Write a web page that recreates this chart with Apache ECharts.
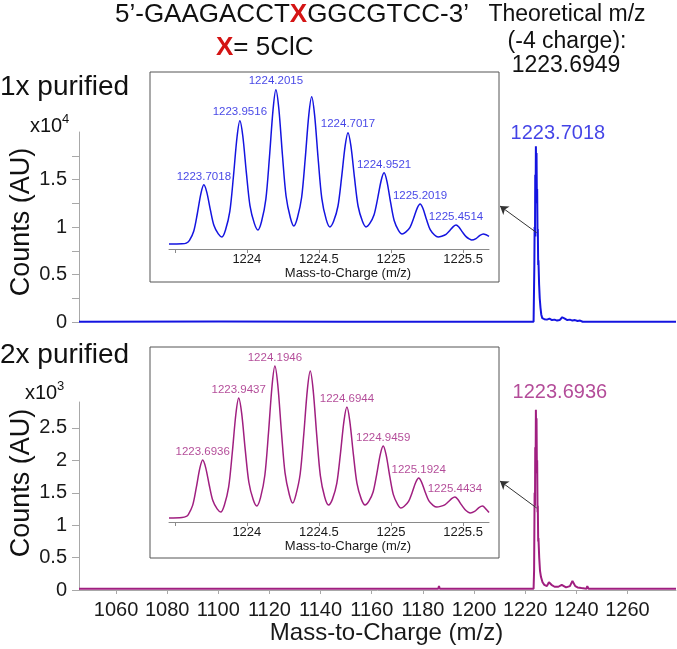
<!DOCTYPE html>
<html><head><meta charset="utf-8">
<script src="https://cdn.jsdelivr.net/npm/echarts@6/dist/echarts.min.js"></script>
<style>html,body{margin:0;padding:0;background:#fff}#c{width:677px;height:649px}</style>
</head><body><div id="c"></div>
<script>
const FONT = 'Liberation Sans, Arial, Helvetica, sans-serif';
const BLUE = '#1414e0';
const PURPLE = '#a01f80';

// main spectra [m/z, counts]
const spectrum1x = [
[1045.5,30],[1100,40],[1150,30],[1190.2,30],[1190.5,160],[1190.8,30],[1195.9,30],[1196.2,120],[1196.5,30],
[1223.3,30],[1223.45,200],[1223.6,6000],[1223.7,10000],[1223.85,9000],[1223.95,15500],[1224.1,13000],[1224.2,18500],[1224.35,15000],[1224.45,17800],[1224.6,12500],[1224.7,14000],[1224.85,9000],[1224.95,9800],[1225.1,6000],[1225.2,6500],[1225.45,4000],[1225.7,2500],[1226.0,1500],[1226.3,800],[1226.7,400],
[1227.5,300],[1228.5,250],[1229.5,350],[1230.5,200],[1231.5,250],[1232.5,150],[1233.5,200],[1234.5,500],[1235.0,700],[1235.5,350],[1236.5,200],[1237.5,250],[1238.5,150],[1239.5,200],[1240.5,100],[1241.5,150],[1242.5,30],[1279,30]
];
const spectrum2x = [
[1045.5,20],[1120,20],[1186,20],[1186.3,60],[1186.6,20],[1223.3,20],[1223.5,300],[1223.7,1500],[1223.85,1300],[1223.95,2200],[1224.1,1900],[1224.2,2780],[1224.35,2300],[1224.45,2650],[1224.6,1800],[1224.7,2000],[1224.85,1200],[1224.95,1300],[1225.1,750],[1225.2,800],[1225.5,500],[1225.8,300],[1226.2,200],[1226.8,120],[1227.5,80],[1228.5,60],[1229.3,120],[1229.8,140],[1230.3,80],[1231.5,50],[1233,50],[1234.3,80],[1234.8,60],[1236,40],[1237.5,60],[1238.5,140],[1239,110],[1239.6,60],[1240.5,40],[1242,30],[1244,20],[1244.3,60],[1244.8,20],[1253.5,20],[1253.8,50],[1254.2,20],[1279,20]
];

// inset (zoomed isotope envelope) [m/z, counts]
const inset1x = [
[1223.46,600],[1223.55,620],[1223.58,700],
[1223.602,1030],[1223.632,2160],[1223.657,4280],[1223.682,6690],[1223.7018,7680],
[1223.722,6810],[1223.747,4690],[1223.772,2810],[1223.802,1810],[1223.827,1440],
[1223.852,2280],[1223.882,4500],[1223.907,8680],[1223.932,13410],[1223.9516,15360],
[1223.972,13530],[1223.997,9080],[1224.022,5160],[1224.052,3070],[1224.077,2280],
[1224.102,3290],[1224.132,5980],[1224.157,11020],[1224.182,16730],[1224.2015,19080],
[1224.222,16800],[1224.247,11250],[1224.272,6350],[1224.302,3740],[1224.326,2760],
[1224.35,3690],[1224.38,6170],[1224.405,10810],[1224.43,16070],[1224.45,18240],
[1224.47,16060],[1224.495,10750],[1224.52,6070],[1224.55,3580],[1224.576,2640],
[1224.602,3320],[1224.632,5120],[1224.657,8510],[1224.682,12340],[1224.7017,13920],
[1224.722,12340],[1224.747,8510],[1224.772,5120],[1224.802,3320],[1224.827,2640],
[1224.852,3030],[1224.882,4070],[1224.907,6010],[1224.932,8210],[1224.9521,9120],
[1224.972,8100],[1224.997,5610],[1225.022,3410],[1225.052,2240],[1225.077,1800],
[1225.102,2020],[1225.132,2590],[1225.157,3670],[1225.182,4900],[1225.2019,5400],
[1225.222,4850],[1225.247,3500],[1225.272,2310],[1225.302,1680],[1225.327,1440],
[1225.352,1530],[1225.382,1760],[1225.407,2190],[1225.432,2680],[1225.4514,2880],
[1225.471,2630],[1225.496,2020],[1225.521,1480],[1225.545,1190],[1225.56,1080],
[1225.59,1250],[1225.615,1600],[1225.64,1800],[1225.66,1700],[1225.68,1500]
];
const inset2x = [
[1223.46,72],[1223.55,80],[1223.58,100],
[1223.594,135],[1223.624,300],[1223.649,615],[1223.674,970],[1223.6936,1116],
[1223.714,985],[1223.739,667],[1223.764,386],[1223.794,236],[1223.819,180],
[1223.844,303],[1223.874,631],[1223.899,1247],[1223.924,1945],[1223.9437,2232],
[1223.964,1960],[1223.989,1299],[1224.014,716],[1224.044,405],[1224.069,288],
[1224.095,439],[1224.125,842],[1224.15,1598],[1224.175,2455],[1224.1946,2808],
[1224.215,2463],[1224.24,1624],[1224.265,885],[1224.295,490],[1224.318,342],
[1224.34,485],[1224.37,865],[1224.395,1578],[1224.42,2385],[1224.44,2718],
[1224.46,2380],[1224.485,1560],[1224.51,837],[1224.54,451],[1224.567,306],
[1224.594,412],[1224.624,694],[1224.649,1223],[1224.674,1823],[1224.6944,2070],
[1224.714,1823],[1224.739,1223],[1224.764,694],[1224.794,412],[1224.82,306],
[1224.846,370],[1224.876,540],[1224.901,858],[1224.926,1219],[1224.9459,1368],
[1224.966,1212],[1224.991,832],[1225.016,498],[1225.046,319],[1225.069,252],
[1225.092,284],[1225.122,371],[1225.147,533],[1225.172,716],[1225.1924,792],
[1225.212,719],[1225.237,541],[1225.262,385],[1225.292,301],[1225.318,270],
[1225.343,281],[1225.373,310],[1225.398,364],[1225.423,425],[1225.4434,450],
[1225.463,410],[1225.488,312],[1225.513,225],[1225.535,179],[1225.55,162],
[1225.58,190],[1225.61,260],[1225.635,288],[1225.66,230],[1225.68,170]
];
const peaks1xMz = [1223.7018,1223.9516,1224.2015,1224.7017,1224.9521,1225.2019,1225.4514];
const peaks2xMz = [1223.6936,1223.9437,1224.1946,1224.6944,1224.9459,1225.1924,1225.4434];
const mainLabel1x = '1223.7018';
const mainLabel2x = '1223.6936';
const mainApex1x = [1224.2, 18500];
const mainApex2x = [1224.2, 2780];
const arrowFrom1x = [1224.5, 9400];
const arrowFrom2x = [1224.5, 1265];

const xTickValues = [1060,1080,1100,1120,1140,1160,1180,1200,1220,1240,1260];
const yTicks1x = [0,2500,5000,7500,10000,12500,15000,17500];
const yLabels1x = [0,5000,10000,15000];
const yTicks2x = [0,500,1000,1500,2000,2500];
const insetTicks = [1223.5,1224,1224.5,1225,1225.5];
const insetLabels = [1224,1224.5,1225,1225.5];

const labelPts1 = peaks1xMz.map(m => inset1x.find(p => p[0] === m));
const labelPts2 = peaks2xMz.map(m => inset2x.find(p => p[0] === m));

const XMIN = 1045.5, XMAX = 1279;
const axisGrey = '#a8a8a8';

function mainX(gridIndex, show) {
  return {
    type: 'value', gridIndex, min: XMIN, max: XMAX, show,
    offset: 5,
    axisLine: {show: true, lineStyle: {color: axisGrey, width: 1}},
    axisTick: {show: true, length: 4, inside: false, customValues: xTickValues, lineStyle: {color: axisGrey}},
    axisLabel: {customValues: xTickValues, margin: 5, fontSize: 20, color: '#1a1a1a', fontFamily: FONT, formatter: v => String(v)},
    splitLine: {show: false},
    name: show ? 'Mass-to-Charge (m/z)' : '',
    nameLocation: 'middle', nameGap: 26,
    nameTextStyle: {fontSize: 24, color: '#1a1a1a', fontFamily: FONT, padding: [0, 0, 0, 18]}
  };
}
function mainY(gridIndex, max, ticks, labels, div) {
  return {
    type: 'value', gridIndex, min: 0, max,
    axisLine: {show: true, lineStyle: {color: axisGrey, width: 1}},
    axisTick: {show: true, length: 7, customValues: ticks, lineStyle: {color: axisGrey}},
    axisLabel: {customValues: labels, margin: 12, fontSize: 20, color: '#1a1a1a', fontFamily: FONT, formatter: v => String(v / div)},
    splitLine: {show: false}
  };
}
function insetX(gridIndex) {
  return {
    type: 'value', gridIndex, min: 1223.46, max: 1225.68,
    axisLine: {show: true, lineStyle: {color: '#8a8a8a', width: 1}},
    axisTick: {show: true, length: 4, customValues: insetTicks, lineStyle: {color: '#8a8a8a'}},
    axisLabel: {customValues: insetLabels, margin: 4, fontSize: 13, color: '#1a1a1a', fontFamily: FONT, formatter: v => String(v)},
    splitLine: {show: false},
    name: 'Mass-to-Charge (m/z)', nameLocation: 'middle', nameGap: 16,
    nameTextStyle: {fontSize: 13, color: '#1a1a1a', fontFamily: FONT, padding: [0, 0, 0, 38]}
  };
}
function insetY(gridIndex, max) {
  return {type: 'value', gridIndex, min: 0, max, show: false, splitLine: {show: false}};
}
function labelScatter(xi, yi, data, color, fs, dist, offset, textFn) {
  return {
    type: 'scatter', xAxisIndex: xi, yAxisIndex: yi, data,
    symbolSize: 1, itemStyle: {color: 'transparent'}, silent: true,
    label: {show: true, position: 'top', distance: dist, offset, color, fontSize: fs, fontFamily: FONT, formatter: textFn}
  };
}
function arrow(from, toX, toY) {
  return {
    silent: true, symbol: ['none', 'arrow'], symbolSize: 8,
    label: {show: false},
    lineStyle: {color: '#333', width: 1, type: 'solid'},
    emphasis: {disabled: true},
    data: [[{coord: from}, {x: toX, y: toY}]]
  };
}

const chart = echarts.init(document.getElementById('c'), null, {renderer: 'canvas'});
chart.setOption({
  animation: false,
  backgroundColor: '#fff',
  textStyle: {fontFamily: FONT},
  grid: [
    {left: 79, right: 1, top: 132, bottom: 327},
    {left: 79, right: 1, top: 402, bottom: 59},
    {left: 169, right: 188, top: 82, bottom: 400},
    {left: 169, right: 188, top: 361, bottom: 127}
  ],
  xAxis: [mainX(0, false), mainX(1, true), insetX(2), insetX(3)],
  yAxis: [
    mainY(0, 20000, yTicks1x, yLabels1x, 10000),
    mainY(1, 2900, yTicks2x, yTicks2x, 1000),
    insetY(2, 20000), insetY(3, 2900)
  ],
  series: [
    {type: 'line', xAxisIndex: 0, yAxisIndex: 0, data: spectrum1x, showSymbol: false, lineStyle: {color: BLUE, width: 2}, itemStyle: {color: BLUE},
     markLine: arrow(arrowFrom1x, 500, 206)},
    labelScatter(0, 0, [mainApex1x], BLUE, 20, 2, [22, 0], () => mainLabel1x),
    {type: 'line', xAxisIndex: 1, yAxisIndex: 1, data: spectrum2x, showSymbol: false, lineStyle: {color: PURPLE, width: 2}, itemStyle: {color: PURPLE},
     markLine: arrow(arrowFrom2x, 500, 481)},
    labelScatter(1, 1, [mainApex2x], PURPLE, 20, 7, [24, 0], () => mainLabel2x),
    {type: 'line', xAxisIndex: 2, yAxisIndex: 2, data: inset1x, showSymbol: false, smooth: 0.3, lineStyle: {color: BLUE, width: 1.5}, itemStyle: {color: BLUE}},
    labelScatter(2, 2, labelPts1, BLUE, 11.5, 2, [0, 0], p => p.value[0].toFixed(4)),
    {type: 'line', xAxisIndex: 3, yAxisIndex: 3, data: inset2x, showSymbol: false, smooth: 0.3, lineStyle: {color: PURPLE, width: 1.5}, itemStyle: {color: PURPLE}},
    labelScatter(3, 3, labelPts2, PURPLE, 11.5, 2, [0, 0], p => p.value[0].toFixed(4))
  ],
  graphic: [
    {type: 'rect', z: -1, shape: {x: 150, y: 72, width: 349, height: 210}, style: {fill: 'transparent', stroke: '#555', lineWidth: 1}},
    {type: 'rect', z: -1, shape: {x: 150, y: 347, width: 349, height: 211}, style: {fill: 'transparent', stroke: '#555', lineWidth: 1}},
    {type: 'text', x: 115, y: 15, style: {text: '5’-GAAGACCT{r|X}GGCGTCC-3’', fontSize: 26, fontFamily: FONT, fill: '#111', verticalAlign: 'middle',
      rich: {r: {fill: '#d41414', fontWeight: 'bold', fontSize: 26, fontFamily: FONT}}}},
    {type: 'text', x: 216, y: 48, style: {text: '{r|X}= 5ClC', fontSize: 26, fontFamily: FONT, fill: '#111', verticalAlign: 'middle',
      rich: {r: {fill: '#d41414', fontWeight: 'bold', fontSize: 26, fontFamily: FONT}}}},
    {type: 'text', x: 567, y: 15, style: {text: 'Theoretical m/z', fontSize: 23, fontFamily: FONT, fill: '#111', align: 'center', verticalAlign: 'middle'}},
    {type: 'text', x: 567, y: 42, style: {text: '(-4 charge):', fontSize: 23, fontFamily: FONT, fill: '#111', align: 'center', verticalAlign: 'middle'}},
    {type: 'text', x: 566, y: 66, style: {text: '1223.6949', fontSize: 23, fontFamily: FONT, fill: '#111', align: 'center', verticalAlign: 'middle'}},
    {type: 'text', x: 0, y: 87, style: {text: '1x purified', fontSize: 28, fontFamily: FONT, fill: '#111', verticalAlign: 'middle'}},
    {type: 'text', x: 0, y: 355, style: {text: '2x purified', fontSize: 28, fontFamily: FONT, fill: '#111', verticalAlign: 'middle'}},
    {type: 'text', x: 30, y: 126, style: {text: 'x10', fontSize: 20, fontFamily: FONT, fill: '#111', verticalAlign: 'middle'}},
    {type: 'text', x: 62, y: 119, style: {text: '4', fontSize: 13, fontFamily: FONT, fill: '#111', verticalAlign: 'middle'}},
    {type: 'text', x: 25, y: 393, style: {text: 'x10', fontSize: 20, fontFamily: FONT, fill: '#111', verticalAlign: 'middle'}},
    {type: 'text', x: 57, y: 386, style: {text: '3', fontSize: 13, fontFamily: FONT, fill: '#111', verticalAlign: 'middle'}},
    {type: 'text', x: 22, y: 222, rotation: Math.PI / 2, style: {text: 'Counts (AU)', fontSize: 27, fontFamily: FONT, fill: '#111', align: 'center', verticalAlign: 'middle'}},
    {type: 'text', x: 22, y: 483, rotation: Math.PI / 2, style: {text: 'Counts (AU)', fontSize: 27, fontFamily: FONT, fill: '#111', align: 'center', verticalAlign: 'middle'}}
  ]
});
</script></body></html>
